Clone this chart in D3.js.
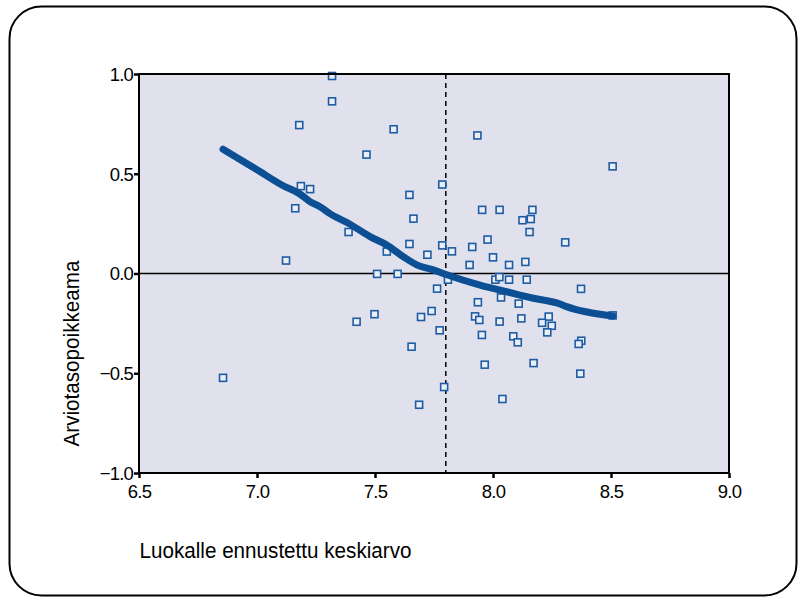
<!DOCTYPE html>
<html>
<head>
<meta charset="utf-8">
<script src="https://cdn.jsdelivr.net/npm/d3@7"></script>
<style>
  body { margin: 0; background: #ffffff; }
  svg { display: block; }
</style>
</head>
<body>
<svg id="chart" width="804" height="601"></svg>
<script>
// Class-level predicted mean (x) vs. grading deviation (y)
const predictedMean = [
  7.318, 7.318, 7.179, 7.579, 7.934, 7.464, 8.507, 7.785, 7.186, 7.225,
  7.646, 7.162, 7.954, 8.028, 8.167, 7.663, 8.125, 8.160, 8.155, 7.388,
  8.306, 7.977, 7.646, 7.785, 7.912, 7.826, 7.550, 7.722, 8.000, 7.123,
  8.068, 8.137, 7.901, 7.509, 7.596, 7.809, 8.010, 8.027, 8.068, 8.143,
  7.763, 8.373, 8.034, 7.936, 8.109, 7.740, 7.498, 7.695, 7.924, 8.236,
  8.507, 7.942, 8.120, 7.422, 8.028, 8.208, 8.249, 7.774, 8.230, 7.953,
  8.086, 8.105, 8.374, 8.363, 7.655, 7.965, 8.172, 8.370, 6.856, 7.793,
  8.040, 7.687
];
const gradeDeviation = [
  0.990, 0.863, 0.744, 0.723, 0.692, 0.596, 0.537, 0.446, 0.438, 0.423,
  0.394, 0.327, 0.319, 0.319, 0.319, 0.275, 0.267, 0.273, 0.208, 0.208,
  0.156, 0.170, 0.148, 0.141, 0.133, 0.111, 0.110, 0.094, 0.081, 0.065,
  0.043, 0.058, 0.043, -0.002, -0.002, -0.031, -0.031, -0.018, -0.031, -0.031,
  -0.076, -0.077, -0.120, -0.144, -0.151, -0.188, -0.204, -0.218, -0.215, -0.216,
  -0.210, -0.233, -0.225, -0.242, -0.241, -0.247, -0.262, -0.285, -0.295, -0.308,
  -0.315, -0.345, -0.337, -0.353, -0.367, -0.457, -0.449, -0.502, -0.523, -0.569,
  -0.629, -0.658
];

// Smoothed fit line through the scatter
const fitX = [6.856, 7.000, 7.111, 7.180, 7.225, 7.267, 7.309, 7.387, 7.479, 7.550,
              7.620, 7.677, 7.747, 7.798, 7.945, 8.030, 8.114, 8.171, 8.284, 8.312, 8.507];
const fitY = [0.623, 0.520, 0.440, 0.400, 0.360, 0.335, 0.300, 0.252, 0.185, 0.143,
              0.084, 0.043, 0.018, -0.004, -0.058, -0.083, -0.108, -0.124, -0.153, -0.166, -0.213];

const xTicks = [6.5, 7.0, 7.5, 8.0, 8.5, 9.0];
const yTicks = [-1.0, -0.5, 0.0, 0.5, 1.0];
const cutoff = 7.8;

const xTitle = "Luokalle ennustettu keskiarvo";
const yTitle = "Arviotasopoikkeama";

const plot = { left: 139, right: 729, top: 74, bottom: 473 };
const fontFamily = "'Liberation Sans', Arial, Helvetica, sans-serif";

const svg = d3.select("#chart");

// Rounded outer frame
svg.append("rect")
  .attr("x", 9.5).attr("y", 6.5)
  .attr("width", 787).attr("height", 589)
  .attr("rx", 32).attr("ry", 32)
  .attr("fill", "#ffffff")
  .attr("stroke", "#000000")
  .attr("stroke-width", 2);

const x = d3.scaleLinear().domain([6.5, 9.0]).range([plot.left, plot.right]);
const y = d3.scaleLinear().domain([-1.0, 1.0]).range([plot.bottom, plot.top]);

// Plot background
svg.append("rect")
  .attr("x", plot.left).attr("y", plot.top)
  .attr("width", plot.right - plot.left)
  .attr("height", plot.bottom - plot.top)
  .attr("fill", "#e1e1ee");

// Reference lines: zero deviation and the cut-off mean
svg.append("line")
  .attr("x1", plot.left).attr("x2", plot.right)
  .attr("y1", y(0)).attr("y2", y(0))
  .attr("stroke", "#000").attr("stroke-width", 1.3);

svg.append("line")
  .attr("x1", x(cutoff)).attr("x2", x(cutoff))
  .attr("y1", plot.top).attr("y2", plot.bottom)
  .attr("stroke", "#000").attr("stroke-width", 1.5)
  .attr("stroke-dasharray", "5,4");

// Scatter markers (open squares)
const pts = predictedMean.map((v, i) => ({ x: v, y: gradeDeviation[i] }));
const ms = 7;
svg.append("g").selectAll("rect")
  .data(pts)
  .join("rect")
  .attr("x", d => x(d.x) - ms / 2)
  .attr("y", d => y(d.y) - ms / 2)
  .attr("width", ms).attr("height", ms)
  .attr("fill", "#eceef6")
  .attr("stroke", "#1d5ca3")
  .attr("stroke-width", 1.6);

// Fit line
const fit = fitX.map((v, i) => [v, fitY[i]]);
svg.append("path")
  .datum(fit)
  .attr("d", d3.line().x(d => x(d[0])).y(d => y(d[1])).curve(d3.curveMonotoneX))
  .attr("fill", "none")
  .attr("stroke", "#0c4f94")
  .attr("stroke-width", 7)
  .attr("stroke-linecap", "round")
  .attr("stroke-linejoin", "round");

// Plot frame
svg.append("rect")
  .attr("x", plot.left).attr("y", plot.top)
  .attr("width", plot.right - plot.left)
  .attr("height", plot.bottom - plot.top)
  .attr("fill", "none")
  .attr("stroke", "#000")
  .attr("stroke-width", 2);

// Axes
const fmt = d3.format(".1f");
const xAxis = d3.axisBottom(x).tickValues(xTicks).tickFormat(fmt).tickSize(5).tickPadding(7);
const yAxis = d3.axisLeft(y).tickValues(yTicks).tickFormat(fmt).tickSize(5).tickPadding(1);

const gx = svg.append("g").attr("transform", `translate(0,${plot.bottom})`).call(xAxis);
const gy = svg.append("g").attr("transform", `translate(${plot.left},0)`).call(yAxis);

[gx, gy].forEach(g => {
  g.select(".domain").remove();
  g.selectAll(".tick line").attr("stroke", "#000").attr("stroke-width", 2.5);
  g.selectAll(".tick text")
    .attr("fill", "#000")
    .style("font-family", fontFamily)
    .style("font-size", "18.5px")
    .style("letter-spacing", "-0.8px");
});
gx.selectAll(".tick text").attr("dy", "0.71em").attr("y", 12);
gy.selectAll(".tick text").attr("dy", "0.35em");

// Axis titles
svg.append("text")
  .attr("x", plot.left + 0.5).attr("y", 558)
  .attr("textLength", 272).attr("lengthAdjust", "spacingAndGlyphs")
  .style("font-family", fontFamily).style("font-size", "22px")
  .attr("fill", "#000")
  .text(xTitle);

svg.append("text")
  .attr("transform", "translate(79,353.5) rotate(-90)")
  .attr("text-anchor", "middle")
  .attr("textLength", 186).attr("lengthAdjust", "spacingAndGlyphs")
  .style("font-family", fontFamily).style("font-size", "22px")
  .attr("fill", "#000")
  .text(yTitle);
</script>
</body>
</html>
